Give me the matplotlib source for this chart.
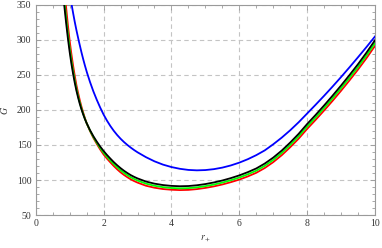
import matplotlib
matplotlib.use("Agg")
import matplotlib.pyplot as plt
from matplotlib.ticker import MultipleLocator

# values
r_blue = [1.06, 1.1, 1.15, 1.2, 1.27, 1.35, 1.4, 1.45, 1.51, 1.6, 1.7, 1.8, 1.9,
          2.0, 2.1, 2.2, 2.3, 2.4, 2.5, 2.6, 2.7, 2.8, 2.9, 3.0, 3.25, 3.5, 3.75,
          4.0, 4.25, 4.5, 4.75, 5.0, 5.25, 5.5, 5.75, 6.0, 6.25, 6.5, 6.75, 7.0,
          7.25, 7.5, 7.75, 8.0, 8.25, 8.5, 8.75, 9.0, 9.25, 9.5, 9.75, 10.0]
g_blue = [350, 339, 326, 314, 298.5, 282, 272.5, 263.5, 253.5, 240, 226.5, 214.5, 203.5,
          193.5, 184.8, 177.1, 170.3, 164.3, 159, 154.3, 150.1, 146.3, 142.8, 139.6, 132.6, 126.7, 122,
          118.5, 116, 114.4, 113.8, 114.2, 115.5, 117.7, 120.8, 124.8, 129.7, 135.5, 142.3, 151,
          160.5, 171, 182.5, 195, 207.5, 220.3, 233.5, 247.1, 261.1, 275.4, 290, 305]

r = [0.84, 0.87, 0.9, 0.95, 1.0, 1.05, 1.1, 1.15, 1.2, 1.25, 1.3, 1.35, 1.4, 1.45,
     1.5, 1.6, 1.7, 1.8, 1.9, 2.0, 2.1, 2.2, 2.3, 2.4, 2.5, 2.6, 2.7, 2.8, 2.9,
     3.0, 3.25, 3.5, 3.75, 4.0, 4.25, 4.5, 4.75, 5.0, 5.25, 5.5, 5.75, 6.0, 6.25,
     6.5, 6.75, 7.0, 7.25, 7.5, 7.75, 8.0, 8.25, 8.5, 8.75, 9.0, 9.25, 9.5, 9.75, 10.0]
g_black = [350, 336, 322.5, 301.5, 283, 266.5, 252, 239, 227.5, 217.5, 208.5, 200.5, 193.5, 187,
           181.3, 171.2, 162.5, 154.8, 147.8, 141.5, 135.8, 130.6, 125.6, 121.1, 117, 113.3, 110, 107, 104.5,
           102.3, 97.8, 94.8, 92.8, 91.6, 91.1, 91.4, 92.5, 94.2, 96.5, 99.3, 102.7, 106.6, 111.2,
           116.5, 123.5, 132, 142, 153.5, 166, 180, 193, 206.5, 220.5, 235, 250, 265.5, 282, 299.6]
g_green = [358.8, 344.2, 330.2, 308.2, 288.6, 271.4, 256.2, 242.5, 230.3, 219.8, 210.4, 201.9, 194.4, 187.5,
           181.3, 170.6, 161.3, 153.2, 145.7, 139, 133.2, 127.9, 122.8, 118.2, 114, 110.3, 107, 104, 101.5,
           99.3, 94.8, 91.8, 89.8, 88.6, 88.1, 88.4, 89.5, 91.2, 93.5, 96.3, 99.7, 103.5, 108.1,
           113.3, 120.3, 128.7, 138.7, 150.1, 162.6, 176.5, 189.4, 202.9, 216.8, 231.3, 246.2, 261.6, 278.1, 295.6]
g_red = [375, 359.5, 344.5, 320.5, 299, 280.5, 264, 249, 235.5, 224.2, 213.8, 204.5, 196.2, 188.3,
         181.3, 170, 160.1, 151.6, 143.6, 136.5, 130.6, 125.2, 120, 115.3, 111, 107.3, 104, 101, 98.5,
         96.3, 91.8, 89, 87.1, 86.1, 85.6, 85.9, 87, 88.7, 90.9, 93.6, 96.9, 100.6, 105.1,
         110.3, 117.1, 125.5, 135.4, 146.8, 159.1, 173, 185.9, 199.3, 213.1, 227.5, 242.4, 257.8, 274.1, 291.6]

plt.rcParams['font.family'] = ['Liberation Serif', 'DejaVu Serif']
plt.rcParams['mathtext.fontset'] = 'stix'

fig = plt.figure(figsize=(3.82, 2.48), dpi=100)
ax = fig.add_axes([0.0935, 0.133, 0.8882, 0.847])

lw = 1.3
ax.plot(r_blue, g_blue, color='#0000ff', lw=lw, zorder=3)
ax.plot(r, g_red, color='#ff0000', lw=lw, zorder=3)
ax.plot(r, g_green, color='#00ff00', lw=lw, zorder=4)
ax.plot(r, g_black, color='black', lw=lw, zorder=5)

ax.set_xlim(0, 10)
ax.set_ylim(50, 350)
ax.xaxis.set_major_locator(MultipleLocator(2))
ax.xaxis.set_minor_locator(MultipleLocator(0.5))
ax.yaxis.set_major_locator(MultipleLocator(50))
ax.yaxis.set_minor_locator(MultipleLocator(10))

ax.grid(True, which='major', color='#c4c4c4', ls=(0, (4, 3)), lw=0.8, zorder=1)

for s in ax.spines.values():
    s.set_color('#9a9a9a')
    s.set_linewidth(0.8)
ax.tick_params(which='both', direction='in', top=True, right=True,
               color='#9a9a9a', width=0.6, labelsize=7, labelcolor='#333333', pad=3)
ax.tick_params(which='major', length=3.5)
ax.tick_params(which='minor', length=2)

ax.set_xlabel(r'$r_+$', fontsize=7, color='#333333', labelpad=4)
ax.set_ylabel(r'$G$', fontsize=7, color='#333333', labelpad=5)

fig.savefig('out.png', dpi=100)
